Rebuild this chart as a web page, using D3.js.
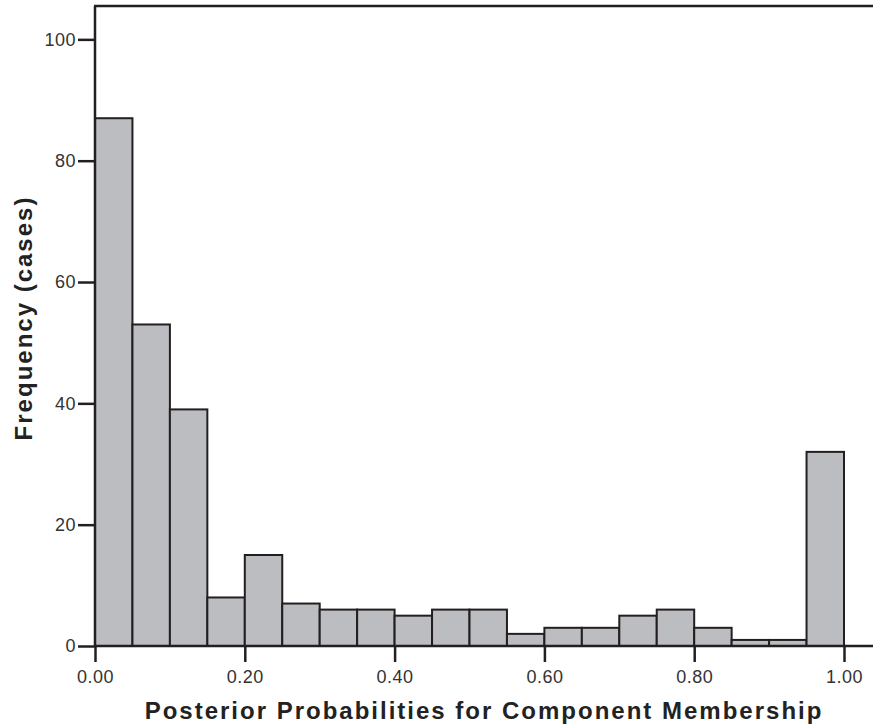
<!DOCTYPE html>
<html>
<head>
<meta charset="utf-8">
<script src="https://cdn.jsdelivr.net/npm/d3@7"></script>
<style>
    body { margin: 0; background: #fff; }
    .tick text { font-family: "Liberation Sans", Arial, sans-serif; font-size: 18px; fill: #333; letter-spacing: 0.5px; }
    .axis-title { font-family: "Liberation Sans", Arial, sans-serif; font-size: 24px; font-weight: bold; fill: #222; letter-spacing: 2px; }
</style>
</head>
<body>
<svg id="chart"></svg>
<script>
// histogram bins (width 0.05) and counts
var binStarts = [0.00, 0.05, 0.10, 0.15, 0.20, 0.25, 0.30, 0.35, 0.40, 0.45,
                 0.50, 0.55, 0.60, 0.65, 0.70, 0.75, 0.80, 0.85, 0.90, 0.95];
var counts = [87, 53, 39, 8, 15, 7, 6, 6, 5, 6,
              6, 2, 3, 3, 5, 6, 3, 1, 1, 32];
var binWidth = 0.05;
var xTicks = [0, 0.2, 0.4, 0.6, 0.8, 1.0];
var yTicks = [0, 20, 40, 60, 80, 100];

var width = 873, height = 725;
var margin = { "left": 95, "top": 6, "bottom": 79 };
var plotRight = 844;

var svg = d3.select("#chart")
    .attr("width", width)
    .attr("height", height);

var x = d3.scaleLinear()
    .domain([0, 1])
    .range([margin.left, plotRight]);

var y = d3.scaleLinear()
    .domain([0, 105.5])
    .range([height - margin.bottom, margin.top]);

var lineColor = "#231f20";

// bars
svg.append("g")
    .attr("class", "bars")
    .selectAll("rect")
    .data(counts).enter()
    .append("rect")
    .attr("x", (d, i) => x(binStarts[i]))
    .attr("width", (d, i) => x(binStarts[i] + binWidth) - x(binStarts[i]))
    .attr("y", d => y(d))
    .attr("height", d => y(0) - y(d))
    .style("fill", "#bcbdc1")
    .style("stroke", lineColor)
    .style("stroke-width", 2);

// y axis
var gY = svg.append("g")
    .attr("class", "axis axis--y")
    .attr("transform", "translate(" + margin.left + ",0)")
    .call(d3.axisLeft(y).tickValues(yTicks).tickFormat(d3.format("d")).tickSize(17).tickPadding(2));
gY.select(".domain").remove();
gY.selectAll(".tick line").style("stroke", lineColor).style("stroke-width", 2.5);

// x axis
var gX = svg.append("g")
    .attr("class", "axis axis--x")
    .attr("transform", "translate(0," + y(0) + ")")
    .call(d3.axisBottom(x).tickValues(xTicks).tickFormat(d3.format(".2f")).tickSize(16).tickPadding(8));
gX.select(".domain").remove();
gX.selectAll(".tick line").style("stroke", lineColor).style("stroke-width", 2.5);

// frame: left, top, baseline
svg.append("line")
    .attr("x1", margin.left).attr("x2", margin.left)
    .attr("y1", y.range()[1]).attr("y2", y(0))
    .style("stroke", lineColor).style("stroke-width", 2.5);
svg.append("line")
    .attr("x1", margin.left - 1).attr("x2", width)
    .attr("y1", y.range()[1]).attr("y2", y.range()[1])
    .style("stroke", lineColor).style("stroke-width", 2.5);
svg.append("line")
    .attr("x1", margin.left).attr("x2", width)
    .attr("y1", y(0)).attr("y2", y(0))
    .style("stroke", lineColor).style("stroke-width", 2.5);

// axis titles
svg.append("text")
    .attr("class", "axis-title")
    .attr("text-anchor", "middle")
    .attr("x", 484)
    .attr("y", 719)
    .text("Posterior Probabilities for Component Membership");

svg.append("text")
    .attr("class", "axis-title")
    .attr("text-anchor", "middle")
    .attr("transform", "translate(32,318) rotate(-90)")
    .text("Frequency (cases)");
</script>
</body>
</html>
